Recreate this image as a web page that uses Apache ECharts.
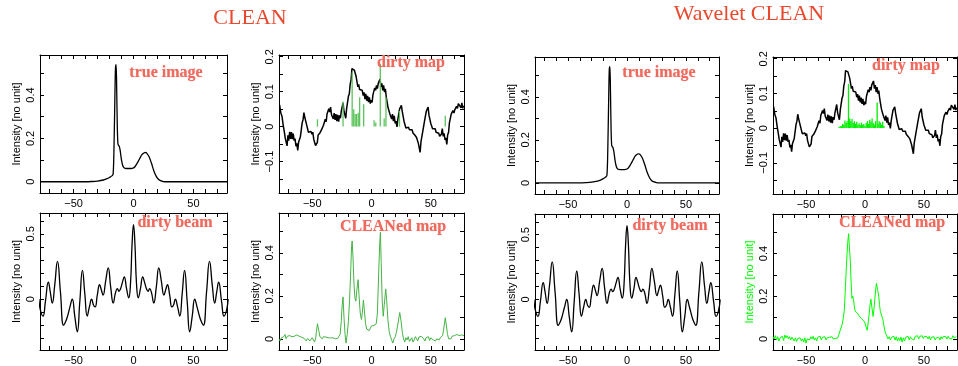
<!DOCTYPE html>
<html>
<head>
<meta charset="utf-8">
<script src="https://cdn.jsdelivr.net/npm/echarts@6/dist/echarts.min.js"></script>
<style>html,body{margin:0;padding:0;background:#fff}#c{width:958px;height:366px}</style>
</head>
<body>
<div id="c"></div>
<script>
// ---------- data ----------
const xTicks = [-70,-60,-50,-40,-30,-20,-10,0,10,20,30,40,50,60,70];
const xLabels = [-50,0,50];
const yTicksIntensity = [0,0.1,0.2,0.3,0.4,0.5];
const yLabelsIntensity = [0,0.2,0.4];
const yTicksDirty = [-0.15,-0.1,-0.05,0,0.05,0.1,0.15,0.2];
const yLabelsDirty = [-0.1,0,0.1,0.2];
const yTicksBeam = [-0.3,-0.2,-0.1,0,0.1,0.2,0.3,0.4,0.5,0.6];
const yLabelsBeam = [0,0.5];

const trueImage = [[-78,0],[-40,0],[-35,0.001],[-30,0.003],[-25,0.008],[-22,0.014],[-20,0.02],[-18,0.027],[-17,0.035],[-16.3,0.15],[-15.5,0.4],[-15,0.53],[-14.5,0.54],[-14,0.42],[-13.5,0.25],[-13,0.175],[-12.5,0.168],[-12,0.165],[-11.5,0.155],[-11,0.14],[-10,0.1],[-9,0.075],[-8,0.065],[-7,0.062],[-5,0.061],[-3,0.061],[-1,0.062],[0,0.064],[1,0.068],[3,0.085],[5,0.105],[7,0.125],[9,0.134],[10,0.135],[11,0.132],[13,0.115],[15,0.085],[17,0.05],[19,0.025],[21,0.01],[23,0.004],[25,0.001],[27,0],[78,0]];

const dirtyMap = [[-77.5,0.062],[-76.5,0.04],[-75.5,0.03],[-74.5,0.005],[-73.5,-0.015],[-72.8,-0.032],[-72,-0.028],[-71.2,-0.055],[-70.5,-0.025],[-69.8,-0.04],[-69,-0.015],[-68.2,-0.035],[-67.5,-0.016],[-66.7,-0.036],[-66,-0.02],[-65.2,-0.04],[-64.5,-0.034],[-63.7,-0.056],[-63,-0.048],[-62.2,-0.068],[-61.5,-0.045],[-60.7,-0.05],[-60,-0.03],[-59.2,-0.025],[-58.5,0.01],[-57.7,0.02],[-57,0.04],[-56.2,0.026],[-55.5,0.03],[-54.7,0.005],[-54,0.006],[-53.2,-0.016],[-52.5,-0.012],[-51.7,-0.018],[-51,-0.014],[-50.2,-0.022],[-49.5,-0.016],[-48.7,-0.036],[-48,-0.032],[-47.2,-0.054],[-46.5,-0.052],[-45.7,-0.046],[-45,-0.024],[-44.2,-0.024],[-43.5,-0.018],[-42.7,-0.016],[-42,-0.008],[-41.2,-0.011],[-40.5,0.004],[-39.7,0.004],[-39,0.021],[-38.2,0.014],[-37.5,0.036],[-36.7,0.036],[-36,0.051],[-35.2,0.042],[-34.5,0.056],[-33.7,0.034],[-33,0.038],[-32.2,0.022],[-31.5,0.039],[-30.7,0.019],[-30,0.036],[-29.2,0.016],[-28.5,0.034],[-27.7,0.014],[-27,0.032],[-26.2,0.024],[-25.5,0.044],[-24.7,0.044],[-24,0.068],[-23.2,0.044],[-22.5,0.041],[-21.7,0.024],[-21,0.051],[-20.2,0.054],[-19.5,0.086],[-18.7,0.094],[-18,0.121],[-17.2,0.134],[-16.5,0.166],[-15.8,0.166],[-15.2,0.171],[-14.5,0.162],[-13.8,0.161],[-13,0.144],[-12.3,0.141],[-11.5,0.114],[-10.8,0.121],[-10,0.106],[-9.3,0.111],[-8.5,0.102],[-7.8,0.104],[-7,0.089],[-6.3,0.098],[-5.5,0.079],[-4.8,0.094],[-4,0.074],[-3.3,0.088],[-2.5,0.07],[-1.8,0.084],[-1,0.066],[-0.3,0.076],[0.5,0.069],[1.2,0.091],[2,0.092],[2.7,0.111],[3.5,0.104],[4.2,0.118],[5,0.109],[5.7,0.124],[6.5,0.119],[7.2,0.136],[8,0.114],[8.7,0.124],[9.5,0.104],[10.2,0.118],[11,0.099],[11.7,0.108],[12.5,0.084],[13.2,0.081],[14,0.054],[14.7,0.054],[15.5,0.036],[16.2,0.041],[17,0.022],[17.7,0.036],[18.5,0.016],[19.2,0.031],[20,0.009],[20.7,0.016],[21.5,-0.001],[22.2,0.021],[23,0.024],[23.7,0.051],[24.5,0.046],[25.2,0.061],[26,0.042],[26.7,0.041],[27.5,0.014],[28.2,0.014],[29,-0.004],[29.7,0.001],[30.5,-0.006],[31.2,-0.002],[32,-0.009],[32.7,-0.004],[33.5,-0.011],[34.2,-0.009],[35,-0.018],[35.7,-0.014],[36.5,-0.024],[37.2,-0.022],[38,-0.031],[38.7,-0.029],[39.5,-0.048],[40.2,-0.049],[41,-0.074],[41.7,-0.044],[42.5,-0.041],[43.2,-0.014],[44,-0.011],[44.7,0.016],[45.5,0.019],[46.2,0.044],[47,0.042],[47.7,0.056],[48.5,0.032],[49.2,0.031],[50,0.009],[50.7,0.011],[51.5,-0.006],[52.2,-0.002],[53,-0.011],[53.7,-0.006],[54.5,-0.016],[55.2,-0.012],[56,-0.021],[56.7,-0.019],[57.5,-0.028],[58.2,-0.024],[59,-0.021],[59.7,-0.006],[60.5,-0.028],[61.2,-0.019],[62,-0.038],[62.7,-0.032],[63.5,-0.051],[64.2,-0.024],[65,-0.016],[65.7,0.011],[66.5,0.014],[67.2,0.036],[68,0.032],[68.7,0.046],[69.5,0.039],[70.2,0.048],[71,0.044],[71.7,0.058],[72.5,0.052],[73.2,0.066],[74,0.062],[74.7,0.071],[75.5,0.054],[76.2,0.068],[77,0.052],[77.5,0.06]];

const dirtyBeam = [[-79,0.0],[-77.5,-0.09],[-75.5,-0.13],[-73.5,-0.02],[-71,0.13],[-69.5,0.06],[-67.7,-0.03],[-65.8,0.1],[-63.4,0.29],[-61,0.06],[-58.3,-0.2],[-56.5,-0.17],[-55,-0.13],[-53,-0.06],[-51.1,0.0],[-49,-0.13],[-46.9,-0.25],[-44.8,-0.02],[-42.6,0.22],[-40.6,0.04],[-38.6,-0.13],[-36.8,-0.06],[-34.9,0.0],[-33.4,-0.045],[-32,-0.06],[-30.2,0.03],[-28.3,0.11],[-26.8,0.07],[-25.4,0.03],[-23.2,0.14],[-21.1,0.24],[-19,0.09],[-16.9,-0.03],[-15,0.05],[-13.4,0.08],[-12.2,0.06],[-10.8,0.08],[-9.2,0.13],[-7.7,0.17],[-5.8,0.08],[-4,0.01],[-2.5,0.12],[-1.2,0.42],[0,0.57],[1.2,0.42],[2.5,0.12],[4,0.01],[5.8,0.08],[7.7,0.17],[9.2,0.13],[10.8,0.08],[12.2,0.06],[13.4,0.08],[15,0.05],[16.9,-0.03],[19,0.09],[21.1,0.24],[23.2,0.14],[25.4,0.03],[26.8,0.07],[28.3,0.11],[30.2,0.03],[32,-0.06],[33.4,-0.045],[34.9,0.0],[36.8,-0.06],[38.6,-0.13],[40.6,0.04],[42.6,0.22],[44.8,-0.02],[46.9,-0.25],[49,-0.13],[51.1,0.0],[53,-0.06],[55,-0.13],[56.5,-0.17],[58.3,-0.2],[61,0.06],[63.4,0.29],[65.8,0.1],[67.7,-0.03],[69.5,0.06],[71,0.13],[73.5,-0.02],[75.5,-0.13],[77.5,-0.09],[79,0.0]];

const cleanedLeft = [[-78,0.0],[-77,-0.01],[-76,0.005],[-75,0.0],[-74,0.01],[-73,0.02],[-72,0.0],[-71,0.012],[-70,0.005],[-69,0.015],[-68,0.008],[-67,0.01],[-66,0.002],[-65,0.012],[-64,0.01],[-63,0.018],[-62,0.01],[-61,0.012],[-60,0.005],[-59,0.008],[-58,0.0],[-57,0.003],[-56,0.0],[-55,-0.01],[-54,0.002],[-53,-0.005],[-52,-0.01],[-51,-0.008],[-50,0.005],[-49,0.0],[-48,-0.015],[-47,0.005],[-46.5,0.03],[-45.6,0.07],[-44.5,0.04],[-43.5,0.01],[-42.5,0.005],[-41.5,0.0],[-40.5,0.01],[-39.5,0.005],[-38.5,0.008],[-37.5,0.002],[-36.5,0.005],[-35.5,0.0],[-34.5,0.004],[-33.5,-0.005],[-32.5,0.005],[-31.5,-0.002],[-30.5,0.0],[-29.5,-0.008],[-28.5,0.002],[-27.5,0.0],[-26.5,0.02],[-25.5,0.08],[-24.8,0.15],[-24,0.195],[-23.2,0.1],[-22.3,0.02],[-21.5,-0.02],[-20.5,0.02],[-19.5,0.08],[-18.5,0.18],[-17.5,0.32],[-16.8,0.43],[-16.3,0.455],[-15.6,0.38],[-14.8,0.26],[-14,0.19],[-13.2,0.175],[-12.3,0.23],[-11.3,0.275],[-10.5,0.2],[-9.5,0.12],[-8.5,0.09],[-7.8,0.12],[-6.8,0.18],[-6,0.13],[-5,0.07],[-4,0.045],[-3,0.04],[-2,0.038],[-1,0.045],[0,0.06],[1,0.065],[2,0.062],[3,0.06],[4,0.07],[5,0.12],[6,0.3],[7,0.45],[7.5,0.495],[8.2,0.35],[9,0.18],[9.9,0.105],[10.8,0.16],[12,0.232],[12.8,0.18],[13.8,0.09],[15,0.03],[16,0.01],[17,-0.005],[18,-0.02],[19,0.0],[20.2,0.012],[21,0.03],[22,0.06],[23.8,0.122],[25,0.08],[26,0.03],[27,0.0],[28,-0.015],[29,0.005],[30,-0.005],[31,0.01],[32,-0.012],[33,-0.02],[34,0.005],[35,-0.015],[36,-0.005],[37,0.01],[38,0.005],[39,-0.01],[40,0.008],[41,0.0],[42,0.012],[43,0.008],[44,0.0],[45,-0.01],[46,0.005],[47,0.0],[48,0.01],[49,-0.008],[50,0.005],[51,0.01],[52,-0.005],[53,0.002],[54,-0.01],[55,0.0],[56,0.008],[57,-0.005],[58,0.005],[59,0.0],[60,0.015],[61,0.05],[62.2,0.098],[63.2,0.06],[64,0.025],[65,0.0],[66,0.008],[67,0.0],[68,0.012],[69,0.005],[70,0.015],[71,0.01],[72,0.02],[73,0.012],[74,0.015],[75,0.008],[76,0.018],[77,0.012],[78,0.015]];

const cleanedRight = [[-78,0.01],[-77,0.0],[-76,0.015],[-75,-0.005],[-74,0.01],[-73,-0.01],[-72,0.005],[-71,0.0],[-70,0.012],[-69,-0.008],[-68,0.018],[-67,0.005],[-66,0.015],[-65,0.0],[-64,0.01],[-63,-0.005],[-62,0.008],[-61,0.0],[-60,-0.01],[-59,0.005],[-58,-0.012],[-57,0.002],[-56,-0.005],[-55,0.005],[-54,-0.01],[-53,0.0],[-52,-0.015],[-51,0.005],[-50,-0.02],[-49,0.0],[-48,0.008],[-47,-0.005],[-46,0.01],[-45,0.0],[-44,0.012],[-43,-0.005],[-42,0.005],[-41,-0.01],[-40,0.008],[-39,0.0],[-38,0.012],[-37,-0.005],[-36,0.008],[-35,0.002],[-34,0.01],[-33,-0.005],[-32,0.005],[-31,0.0],[-30,0.008],[-29,0.002],[-28,0.01],[-27,0.0],[-26,0.008],[-25,0.002],[-24,0.01],[-23,0.005],[-22.2,0.02],[-21,0.04],[-19.4,0.067],[-18.3,0.1],[-17.5,0.136],[-16.6,0.24],[-15.8,0.338],[-14.8,0.44],[-13.9,0.493],[-13.2,0.43],[-12.5,0.369],[-11.8,0.27],[-11.1,0.19],[-10.4,0.2],[-9.7,0.183],[-9,0.15],[-8.3,0.129],[-7.3,0.135],[-6.4,0.121],[-5.3,0.11],[-4.2,0.105],[-3,0.095],[-1.9,0.102],[-1,0.085],[0,0.074],[1,0.055],[1.9,0.04],[2.8,0.08],[3.6,0.121],[4.3,0.16],[5,0.186],[5.8,0.15],[6.9,0.105],[7.6,0.14],[8.3,0.183],[9,0.23],[9.7,0.26],[10.7,0.23],[11.7,0.198],[12.3,0.16],[13,0.129],[13.7,0.135],[14.4,0.129],[15.2,0.09],[16.1,0.059],[17,0.035],[18,0.02],[19.4,0.0],[20.5,0.01],[21.5,-0.005],[22.5,0.008],[23.5,0.0],[24.5,0.012],[25.5,-0.005],[26.5,0.01],[27.5,-0.01],[28.5,0.005],[29.5,-0.008],[30.5,0.008],[31.5,-0.015],[32.5,0.005],[33.5,-0.01],[34.5,0.008],[35.5,0.0],[36.5,0.012],[37.5,-0.005],[38.5,0.01],[39.5,0.0],[40.5,0.008],[41.5,-0.005],[42.5,0.012],[43.5,0.005],[44.5,0.015],[45.5,0.0],[46.5,0.012],[47.5,0.005],[48.5,0.015],[49.5,0.002],[50.5,0.012],[51.5,0.005],[52.5,0.01],[53.5,0.0],[54.5,0.012],[55.5,-0.005],[56.5,0.008],[57.5,0.0],[58.5,0.01],[59.5,-0.005],[60.5,0.005],[61.5,0.0],[62.5,0.008],[63.5,-0.005],[64.5,0.01],[65.5,0.0],[66.5,0.012],[67.5,0.005],[68.5,0.01],[69.5,0.0],[70.5,0.012],[71.5,0.002],[72.5,0.008],[73.5,0.0],[74.5,0.015],[75.5,0.005],[76.5,0.012],[77.5,0.01]];

const compLeft = [[-45.6,0.021],[-24,0.072],[-16.3,0.155],[-15,0.05],[-13.8,0.036],[-12.6,0.036],[-11.2,0.04],[-10,0.084],[-6.6,0.064],[2.2,0.018],[3.6,0.012],[7.4,0.18],[10.7,0.023],[12.2,0.084],[23.6,0.045],[62.2,0.031]];

const compRight = [[-22,0.003],[-21,0.005],[-20,0.006],[-19,0.012],[-18,0.01],[-17,0.022],[-16,0.015],[-15.2,0.02],[-14,0.127],[-13,0.028],[-12,0.02],[-11,0.026],[-10,0.015],[-9,0.02],[-8,0.012],[-7,0.018],[-6,0.01],[-5,0.014],[-4,0.008],[-3,0.016],[-2,0.01],[-1,0.012],[0,0.006],[1,0.014],[2,0.02],[3,0.012],[4,0.024],[5,0.018],[6,0.028],[7,0.015],[8,0.01],[9,0.02],[10.3,0.074],[11,0.012],[12,0.02],[13,0.016],[14,0.01],[15,0.018],[16,0.006]];

const titles = ['CLEAN','Wavelet CLEAN'];
const panelLabels = ['true image','dirty map','dirty beam','CLEANed map','true image','dirty map','dirty beam','CLEANed map'];
const yName = 'Intensity [no unit]';

// ---------- layout ----------
const RED = '#e8492e', SALMON = '#ee6a5e';
const yIntensity = {min:-0.052, max:0.585, ticks:yTicksIntensity, labels:yLabelsIntensity};
const yDirty = {min:-0.19, max:0.205, ticks:yTicksDirty, labels:yLabelsDirty};
const yBeam = {min:-0.39, max:0.66, ticks:yTicksBeam, labels:yLabelsBeam};

const panels = [
  {g:{left:40,top:55,width:187,height:138}, y:yIntensity, lab:[166,73]},
  {g:{left:279,top:55,width:185,height:138}, y:yDirty, lab:[411,63]},
  {g:{left:40,top:213,width:187,height:138}, y:yBeam, lab:[175,223]},
  {g:{left:279,top:213,width:185,height:138}, y:yIntensity, lab:[393,227]},
  {g:{left:535,top:57,width:184,height:137}, y:yIntensity, lab:[659,73]},
  {g:{left:773,top:57,width:184,height:137}, y:yDirty, lab:[906,66]},
  {g:{left:535,top:214,width:184,height:138}, y:yBeam, lab:[670,226]},
  {g:{left:773,top:214,width:184,height:138}, y:yIntensity, lab:[892,223], nameColor:'#00ff00'}
];

const fmt = v => String(Math.round(v*100)/100).replace('-', '\u2212');
const FONT = 'Liberation Sans';
const grid = [], xAxis = [], yAxis = [], series = [], graphic = [];
panels.forEach((p, i) => {
  grid.push(Object.assign({containLabel:false}, p.g));
  const axLine = {show:true, onZero:false, lineStyle:{color:'#000', width:1}};
  ['bottom','top'].forEach(pos => {
    xAxis.push({type:'value', gridIndex:i, position:pos, min:-78, max:78,
      axisLine:axLine, splitLine:{show:false},
      axisTick:{show:true, inside:true, length:4, customValues:xTicks, lineStyle:{color:'#000'}},
      axisLabel:{show:pos==='bottom', customValues:xLabels, formatter:fmt, color:'#000', fontSize:11, fontFamily:FONT, margin:5}});
  });
  ['left','right'].forEach(pos => {
    yAxis.push({type:'value', gridIndex:i, position:pos, min:p.y.min, max:p.y.max,
      axisLine:axLine, splitLine:{show:false},
      axisTick:{show:true, inside:true, length:4, customValues:p.y.ticks, lineStyle:{color:'#000'}},
      axisLabel:{show:pos==='left', customValues:p.y.labels, formatter:fmt, rotate:90, color:'#000', fontSize:11, fontFamily:FONT, margin:4},
      name: pos==='left' ? yName : '', nameLocation:'middle', nameGap:18, nameRotate:90,
      nameTextStyle:{fontSize:11, fontFamily:FONT, color:p.nameColor || '#000'}});
  });
  graphic.push({type:'text', x:p.lab[0], y:p.lab[1], z:100,
    style:{text:panelLabels[i], fill:SALMON, font:'bold 16px "Liberation Serif"', align:'center', verticalAlign:'middle',
      textShadowColor:'rgba(238,106,94,0.5)', textShadowBlur:1}});
});
const xi = i => 2*i, yi = i => 2*i;
function line(i, data, color, width, smooth){
  series.push({type:'line', xAxisIndex:xi(i), yAxisIndex:yi(i), data:data, showSymbol:false, smooth:smooth||false,
    lineStyle:{color:color, width:width}, animation:false, z:2});
}
function bars(i, data, color){
  series.push({type:'bar', xAxisIndex:xi(i), yAxisIndex:yi(i), data:data, barWidth:1.3,
    itemStyle:{color:color}, animation:false, z:3});
}
line(0, trueImage, '#000', 1.3, 0.3);
line(1, dirtyMap, '#000', 1.5);
bars(1, compLeft, '#5cc35c');
line(2, dirtyBeam, '#000', 1.3, 0.5);
line(3, cleanedLeft, '#44b444', 1);
line(4, trueImage, '#000', 1.3, 0.3);
line(5, dirtyMap, '#000', 1.5);
bars(5, compRight, '#00ee00');
line(6, dirtyBeam, '#000', 1.3, 0.5);
line(7, cleanedRight, '#00ff00', 1);

graphic.push({type:'text', x:250, y:18, style:{text:titles[0], fill:RED, font:'22px "Liberation Serif"', align:'center', verticalAlign:'middle'}});
graphic.push({type:'text', x:749, y:14, style:{text:titles[1], fill:RED, font:'22px "Liberation Serif"', align:'center', verticalAlign:'middle'}});

const chart = echarts.init(document.getElementById('c'), null, {renderer:'canvas'});
chart.setOption({animation:false, backgroundColor:'#fff', grid, xAxis, yAxis, series, graphic});
</script>
</body>
</html>
